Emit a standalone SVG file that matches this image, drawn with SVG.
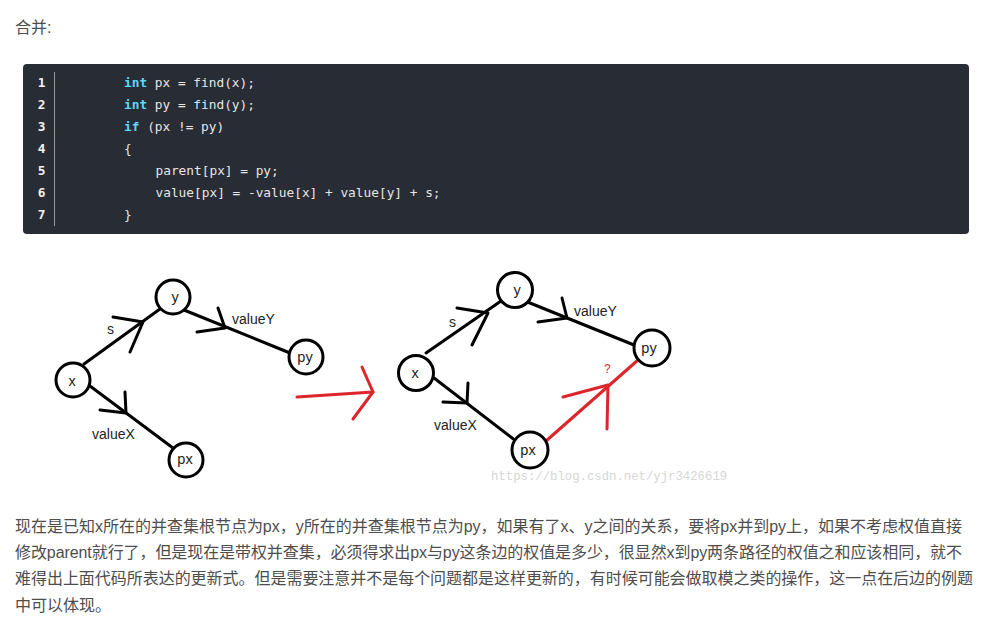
<svg xmlns="http://www.w3.org/2000/svg" width="991" height="643" viewBox="0 0 991 643">
<style>
.para{font-family:"Liberation Sans","Noto Sans CJK SC",sans-serif;font-size:16px;fill:#4d4d4d}
.code{font-family:"DejaVu Sans Mono","Liberation Mono",monospace;font-size:12.8px;fill:#e6e6e6}
.kw{fill:#61d6f5;font-weight:bold}
.ln{font-family:"DejaVu Sans Mono","Liberation Mono",monospace;font-size:12.8px;fill:#f0f0f0;font-weight:bold;text-anchor:middle}
.node circle{fill:#fff;stroke:#000;stroke-width:3}
.node text{font-family:"Liberation Sans",sans-serif;font-size:14.5px;fill:#222;text-anchor:middle}
.edge{stroke:#000;stroke-width:3;fill:none;stroke-linecap:round;stroke-linejoin:round}
.red{stroke:#dd252b;stroke-width:3;fill:none;stroke-linecap:round;stroke-linejoin:round}
.lbl{font-family:"Liberation Sans",sans-serif;font-size:14px;fill:#222}
</style>
<rect width="991" height="643" fill="#fff"/>
<text class="para" x="15" y="33">合并:</text>
<g id="codeblock">
<rect x="23" y="64" width="946" height="170" rx="4" fill="#282c34"/>
<line x1="54.5" y1="72" x2="54.5" y2="226" stroke="#9a9a9a" stroke-width="1"/>
<text class="ln" x="41.5" y="87">1</text>
<text class="ln" x="41.5" y="109">2</text>
<text class="ln" x="41.5" y="131">3</text>
<text class="ln" x="41.5" y="153">4</text>
<text class="ln" x="41.5" y="175">5</text>
<text class="ln" x="41.5" y="197">6</text>
<text class="ln" x="41.5" y="219">7</text>
<text class="code" x="124" y="87"><tspan class="kw">int</tspan> px = find(x);</text>
<text class="code" x="124" y="109"><tspan class="kw">int</tspan> py = find(y);</text>
<text class="code" x="124" y="131"><tspan class="kw">if</tspan> (px != py)</text>
<text class="code" x="124" y="153">{</text>
<text class="code" x="155.5" y="175">parent[px] = py;</text>
<text class="code" x="155.5" y="197">value[px] = -value[x] + value[y] + s;</text>
<text class="code" x="124" y="219">}</text>
</g>
<g id="connectors">
<!-- left diagram -->
<line class="edge" x1="84" y1="364" x2="160" y2="309"/>
<polyline class="edge" points="113,317 143,322 130,352"/>
<line class="edge" x1="184" y1="310" x2="290" y2="353"/>
<polyline class="edge" points="218,308 225,328 197,332"/>
<line class="edge" x1="90" y1="386" x2="173" y2="448"/>
<polyline class="edge" points="125,392 126,413 100,410"/>
<!-- red transition arrow -->
<line class="red" x1="297" y1="397" x2="373" y2="392"/>
<polyline class="red" points="362,367 373,392 353,419"/>
<!-- right diagram -->
<line class="edge" x1="426" y1="353" x2="501" y2="301"/>
<polyline class="edge" points="457,308 488,313 472,345"/>
<line class="edge" x1="525" y1="301" x2="634" y2="345"/>
<polyline class="edge" points="562,298 567,318 538,322"/>
<line class="edge" x1="434" y1="378" x2="516" y2="441"/>
<polyline class="edge" points="468,383 467,403 443,402"/>
<line class="red" x1="546" y1="441" x2="638" y2="360"/>
<polyline class="red" points="563,397 608,385 607,429"/>
</g>
<g id="edge-labels">
<text class="lbl" x="107" y="334">s</text>
<text class="lbl" x="232" y="324">valueY</text>
<text class="lbl" x="92" y="439">valueX</text>
<text class="lbl" x="449" y="327">s</text>
<text class="lbl" x="574" y="316">valueY</text>
<text class="lbl" x="434" y="430">valueX</text>
<text class="lbl" x="604" y="373" style="fill:#dd252b;font-size:12px">?</text>
</g>
<g id="node-y1" class="node"><circle cx="173" cy="297" r="17"/><text x="175" y="302">y</text></g>
<g id="node-py1" class="node"><circle cx="306" cy="357" r="17"/><text x="305" y="362">py</text></g>
<g id="node-x1" class="node"><circle cx="73" cy="380" r="17"/><text x="72" y="386">x</text></g>
<g id="node-px1" class="node"><circle cx="186" cy="460" r="17"/><text x="185" y="464">px</text></g>
<g id="node-y2" class="node"><circle cx="515" cy="290" r="17.5"/><text x="517" y="295">y</text></g>
<g id="node-py2" class="node"><circle cx="652" cy="348" r="18"/><text x="649" y="353">py</text></g>
<g id="node-x2" class="node"><circle cx="416" cy="373" r="17.5"/><text x="415" y="378">x</text></g>
<g id="node-px2" class="node"><circle cx="530" cy="450" r="18"/><text x="528" y="455">px</text></g>
<text x="491" y="480" style="font-family:'Liberation Mono',monospace;font-size:12.3px;fill:#d6d6d6">https://blog.csdn.net/yjr3426619</text>
<g id="paragraph">
<text class="para" x="15" y="532" textLength="947" lengthAdjust="spacing">现在是已知x所在的并查集根节点为px，y所在的并查集根节点为py，如果有了x、y之间的关系，要将px并到py上，如果不考虑权值直接</text>
<text class="para" x="15" y="558" textLength="947" lengthAdjust="spacing">修改parent就行了，但是现在是带权并查集，必须得求出px与py这条边的权值是多少，很显然x到py两条路径的权值之和应该相同，就不</text>
<text class="para" x="15" y="584" textLength="958" lengthAdjust="spacing">难得出上面代码所表达的更新式。但是需要注意并不是每个问题都是这样更新的，有时候可能会做取模之类的操作，这一点在后边的例题</text>
<text class="para" x="15" y="611">中可以体现。</text>
</g>
</svg>
